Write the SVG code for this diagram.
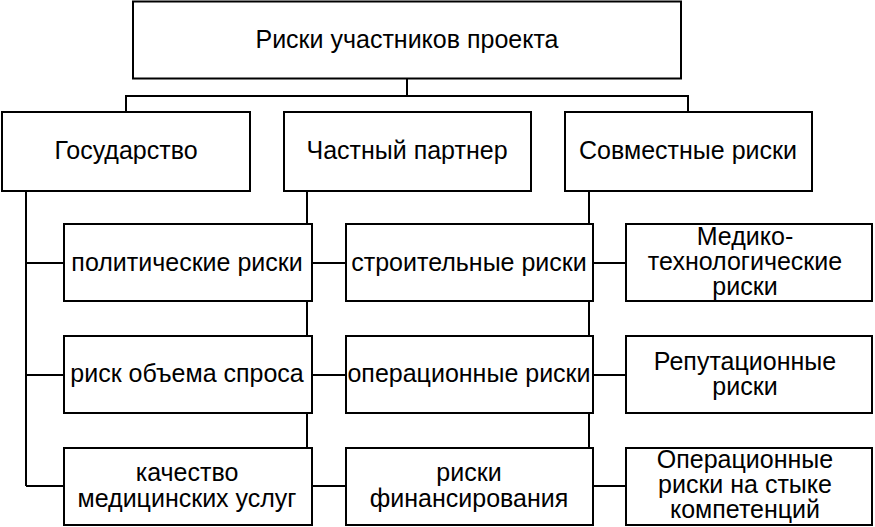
<svg xmlns="http://www.w3.org/2000/svg" width="875" height="527" viewBox="0 0 875 527">
<style>
.box{fill:#fff;stroke:#000;stroke-width:2}
.ln{fill:none;stroke:#000;stroke-width:2}
text{font-family:"Liberation Sans",Arial,sans-serif;font-size:25px;fill:#000;text-anchor:middle}
</style>
<rect width="875" height="527" fill="#fff"/>
<g id="connectors">
<path class="ln" d="M407 79V96M126 112V96H688V112"/>
<path class="ln" d="M26 191V486M26 263H64M26 375H64M26 486H64"/>
<path class="ln" d="M307 191V448"/>
<path class="ln" d="M312 263H346M312 375H346M312 486H346"/>
<path class="ln" d="M589 191V448"/>
<path class="ln" d="M593 263H626M593 375H626M593 486H626"/>
</g>
<g id="root"><rect class="box" x="133" y="1.5" width="548" height="77"/><text x="407" y="48">Риски участников проекта</text></g>
<g id="gov"><rect class="box" x="2" y="112" width="248" height="79"/><text x="126" y="159">Государство</text></g>
<g id="partner"><rect class="box" x="284" y="112" width="247" height="79"/><text x="407" y="159">Частный партнер</text></g>
<g id="joint"><rect class="box" x="565" y="112" width="247" height="79"/><text x="688" y="159">Совместные риски</text></g>
<g id="political"><rect class="box" x="64" y="224" width="248" height="77"/><text x="187" y="271">политические риски</text></g>
<g id="demand"><rect class="box" x="64" y="336" width="248" height="77"/><text x="187" y="382">риск объема спроса</text></g>
<g id="quality"><rect class="box" x="64" y="448" width="248" height="77"/><text x="187" y="481">качество</text><text x="187" y="507">медицинских услуг</text></g>
<g id="construction"><rect class="box" x="346" y="224" width="247" height="77"/><text x="469" y="271">строительные риски</text></g>
<g id="operational"><rect class="box" x="346" y="336" width="247" height="77"/><text x="469" y="382">операционные риски</text></g>
<g id="financing"><rect class="box" x="346" y="448" width="247" height="77"/><text x="469" y="481">риски</text><text x="469" y="507">финансирования</text></g>
<g id="medtech"><rect class="box" x="626" y="224" width="246" height="77"/><text x="745" y="245">Медико-</text><text x="745" y="270">технологические</text><text x="745" y="295">риски</text></g>
<g id="reputation"><rect class="box" x="626" y="336" width="246" height="77"/><text x="745" y="370">Репутационные</text><text x="745" y="395">риски</text></g>
<g id="interface"><rect class="box" x="626" y="448" width="246" height="77"/><text x="745" y="468">Операционные</text><text x="745" y="493">риски на стыке</text><text x="745" y="518">компетенций</text></g>
</svg>
